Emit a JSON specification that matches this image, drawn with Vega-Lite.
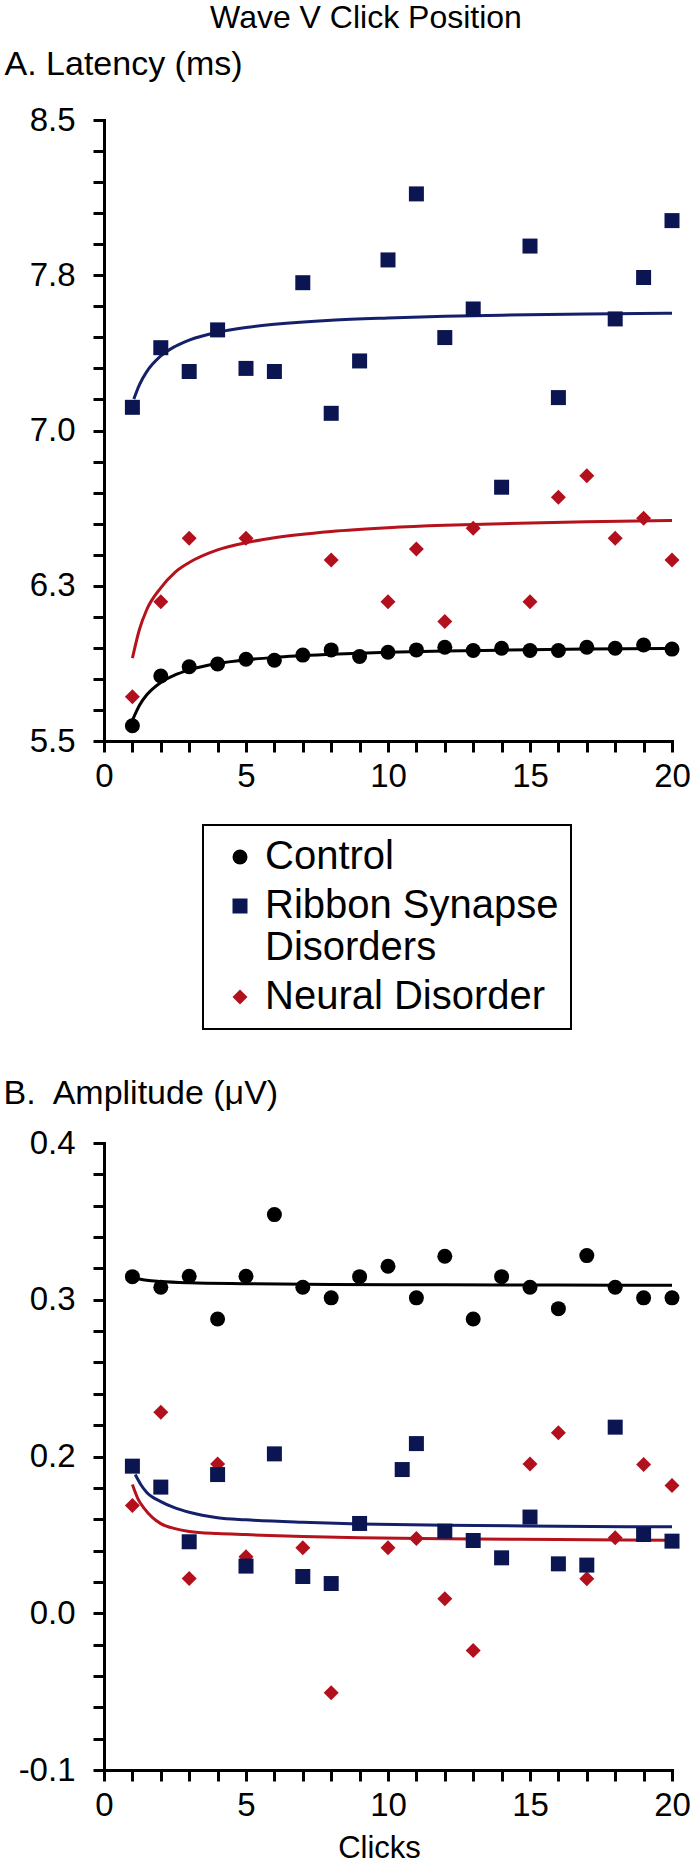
{
  "$schema": "https://vega.github.io/schema/vega-lite/v6.json",
  "padding": {"left": 3, "top": 2, "right": 5, "bottom": 0},
  "background": "white",
  "bounds": "flush",
  "spacing": 402,
  "datasets": {
    "lat_pts": [
      {"group": "Control", "clicks": 1, "value": 5.574}, {"group": "Control", "clicks": 2, "value": 5.814}, {"group": "Control", "clicks": 3, "value": 5.859}, {"group": "Control", "clicks": 4, "value": 5.872}, {"group": "Control", "clicks": 5, "value": 5.895}, {"group": "Control", "clicks": 6, "value": 5.890}, {"group": "Control", "clicks": 7, "value": 5.915}, {"group": "Control", "clicks": 8, "value": 5.940}, {"group": "Control", "clicks": 9, "value": 5.908}, {"group": "Control", "clicks": 10, "value": 5.929}, {"group": "Control", "clicks": 11, "value": 5.940}, {"group": "Control", "clicks": 12, "value": 5.953}, {"group": "Control", "clicks": 13, "value": 5.937}, {"group": "Control", "clicks": 14, "value": 5.948}, {"group": "Control", "clicks": 15, "value": 5.937}, {"group": "Control", "clicks": 16, "value": 5.937}, {"group": "Control", "clicks": 17, "value": 5.953}, {"group": "Control", "clicks": 18, "value": 5.948}, {"group": "Control", "clicks": 19, "value": 5.964}, {"group": "Control", "clicks": 20, "value": 5.944},
      {"group": "Neural Disorder", "clicks": 1, "value": 5.714}, {"group": "Neural Disorder", "clicks": 2, "value": 6.173}, {"group": "Neural Disorder", "clicks": 3, "value": 6.479}, {"group": "Neural Disorder", "clicks": 5, "value": 6.479}, {"group": "Neural Disorder", "clicks": 8, "value": 6.374}, {"group": "Neural Disorder", "clicks": 10, "value": 6.173}, {"group": "Neural Disorder", "clicks": 11, "value": 6.428}, {"group": "Neural Disorder", "clicks": 12, "value": 6.077}, {"group": "Neural Disorder", "clicks": 13, "value": 6.528}, {"group": "Neural Disorder", "clicks": 15, "value": 6.173}, {"group": "Neural Disorder", "clicks": 16, "value": 6.677}, {"group": "Neural Disorder", "clicks": 17, "value": 6.782}, {"group": "Neural Disorder", "clicks": 18, "value": 6.479}, {"group": "Neural Disorder", "clicks": 19, "value": 6.576}, {"group": "Neural Disorder", "clicks": 20, "value": 6.374},
      {"group": "Ribbon Synapse Disorders", "clicks": 1, "value": 7.112}, {"group": "Ribbon Synapse Disorders", "clicks": 2, "value": 7.400}, {"group": "Ribbon Synapse Disorders", "clicks": 3, "value": 7.285}, {"group": "Ribbon Synapse Disorders", "clicks": 4, "value": 7.486}, {"group": "Ribbon Synapse Disorders", "clicks": 5, "value": 7.300}, {"group": "Ribbon Synapse Disorders", "clicks": 6, "value": 7.285}, {"group": "Ribbon Synapse Disorders", "clicks": 7, "value": 7.714}, {"group": "Ribbon Synapse Disorders", "clicks": 8, "value": 7.083}, {"group": "Ribbon Synapse Disorders", "clicks": 9, "value": 7.336}, {"group": "Ribbon Synapse Disorders", "clicks": 10, "value": 7.824}, {"group": "Ribbon Synapse Disorders", "clicks": 11, "value": 8.143}, {"group": "Ribbon Synapse Disorders", "clicks": 12, "value": 7.449}, {"group": "Ribbon Synapse Disorders", "clicks": 13, "value": 7.587}, {"group": "Ribbon Synapse Disorders", "clicks": 14, "value": 6.726}, {"group": "Ribbon Synapse Disorders", "clicks": 15, "value": 7.891}, {"group": "Ribbon Synapse Disorders", "clicks": 16, "value": 7.159}, {"group": "Ribbon Synapse Disorders", "clicks": 18, "value": 7.539}, {"group": "Ribbon Synapse Disorders", "clicks": 19, "value": 7.739}, {"group": "Ribbon Synapse Disorders", "clicks": 20, "value": 8.014}
    ],
    "lat_fit": [
      {"group": "Control", "clicks": 1, "value": 5.600}, {"group": "Control", "clicks": 1.25, "value": 5.673}, {"group": "Control", "clicks": 1.5, "value": 5.722}, {"group": "Control", "clicks": 2, "value": 5.783}, {"group": "Control", "clicks": 2.5, "value": 5.819}, {"group": "Control", "clicks": 3, "value": 5.843}, {"group": "Control", "clicks": 4, "value": 5.874}, {"group": "Control", "clicks": 5, "value": 5.892}, {"group": "Control", "clicks": 6, "value": 5.904}, {"group": "Control", "clicks": 8, "value": 5.919}, {"group": "Control", "clicks": 10, "value": 5.929}, {"group": "Control", "clicks": 12, "value": 5.935}, {"group": "Control", "clicks": 14, "value": 5.939}, {"group": "Control", "clicks": 17, "value": 5.944}, {"group": "Control", "clicks": 20, "value": 5.947},
      {"group": "Ribbon Synapse Disorders", "clicks": 1.05, "value": 7.152}, {"group": "Ribbon Synapse Disorders", "clicks": 1.25, "value": 7.222}, {"group": "Ribbon Synapse Disorders", "clicks": 1.5, "value": 7.283}, {"group": "Ribbon Synapse Disorders", "clicks": 2, "value": 7.36}, {"group": "Ribbon Synapse Disorders", "clicks": 2.5, "value": 7.406}, {"group": "Ribbon Synapse Disorders", "clicks": 3, "value": 7.437}, {"group": "Ribbon Synapse Disorders", "clicks": 4, "value": 7.475}, {"group": "Ribbon Synapse Disorders", "clicks": 5, "value": 7.498}, {"group": "Ribbon Synapse Disorders", "clicks": 6, "value": 7.513}, {"group": "Ribbon Synapse Disorders", "clicks": 8, "value": 7.533}, {"group": "Ribbon Synapse Disorders", "clicks": 10, "value": 7.544}, {"group": "Ribbon Synapse Disorders", "clicks": 12, "value": 7.552}, {"group": "Ribbon Synapse Disorders", "clicks": 14, "value": 7.557}, {"group": "Ribbon Synapse Disorders", "clicks": 17, "value": 7.563}, {"group": "Ribbon Synapse Disorders", "clicks": 20, "value": 7.567},
      {"group": "Neural Disorder", "clicks": 1, "value": 5.900}, {"group": "Neural Disorder", "clicks": 1.25, "value": 6.040}, {"group": "Neural Disorder", "clicks": 1.5, "value": 6.133}, {"group": "Neural Disorder", "clicks": 2, "value": 6.240}, {"group": "Neural Disorder", "clicks": 2.5, "value": 6.315}, {"group": "Neural Disorder", "clicks": 3, "value": 6.362}, {"group": "Neural Disorder", "clicks": 4, "value": 6.423}, {"group": "Neural Disorder", "clicks": 5, "value": 6.458}, {"group": "Neural Disorder", "clicks": 6, "value": 6.482}, {"group": "Neural Disorder", "clicks": 8, "value": 6.512}, {"group": "Neural Disorder", "clicks": 10, "value": 6.530}, {"group": "Neural Disorder", "clicks": 12, "value": 6.542}, {"group": "Neural Disorder", "clicks": 14, "value": 6.550}, {"group": "Neural Disorder", "clicks": 17, "value": 6.559}, {"group": "Neural Disorder", "clicks": 20, "value": 6.565}
    ],
    "amp_pts": [
      {"group": "Control", "clicks": 1, "value": 0.2934}, {"group": "Control", "clicks": 2, "value": 0.285}, {"group": "Control", "clicks": 3, "value": 0.2937}, {"group": "Control", "clicks": 4, "value": 0.2597}, {"group": "Control", "clicks": 5, "value": 0.2937}, {"group": "Control", "clicks": 6, "value": 0.3429}, {"group": "Control", "clicks": 7, "value": 0.285}, {"group": "Control", "clicks": 8, "value": 0.2765}, {"group": "Control", "clicks": 9, "value": 0.2934}, {"group": "Control", "clicks": 10, "value": 0.3017}, {"group": "Control", "clicks": 11, "value": 0.2765}, {"group": "Control", "clicks": 12, "value": 0.3097}, {"group": "Control", "clicks": 13, "value": 0.2597}, {"group": "Control", "clicks": 14, "value": 0.2934}, {"group": "Control", "clicks": 15, "value": 0.285}, {"group": "Control", "clicks": 16, "value": 0.2679}, {"group": "Control", "clicks": 17, "value": 0.3102}, {"group": "Control", "clicks": 18, "value": 0.285}, {"group": "Control", "clicks": 19, "value": 0.2765}, {"group": "Control", "clicks": 20, "value": 0.2765},
      {"group": "Neural Disorder", "clicks": 1, "value": 0.1109}, {"group": "Neural Disorder", "clicks": 2, "value": 0.1853}, {"group": "Neural Disorder", "clicks": 3, "value": 0.0527}, {"group": "Neural Disorder", "clicks": 4, "value": 0.1441}, {"group": "Neural Disorder", "clicks": 5, "value": 0.07}, {"group": "Neural Disorder", "clicks": 7, "value": 0.0772}, {"group": "Neural Disorder", "clicks": 8, "value": -0.0384}, {"group": "Neural Disorder", "clicks": 10, "value": 0.0772}, {"group": "Neural Disorder", "clicks": 11, "value": 0.0846}, {"group": "Neural Disorder", "clicks": 12, "value": 0.0365}, {"group": "Neural Disorder", "clicks": 13, "value": -0.0047}, {"group": "Neural Disorder", "clicks": 15, "value": 0.1441}, {"group": "Neural Disorder", "clicks": 16, "value": 0.1689}, {"group": "Neural Disorder", "clicks": 17, "value": 0.0525}, {"group": "Neural Disorder", "clicks": 18, "value": 0.0852}, {"group": "Neural Disorder", "clicks": 19, "value": 0.1436}, {"group": "Neural Disorder", "clicks": 20, "value": 0.1268},
      {"group": "Ribbon Synapse Disorders", "clicks": 1, "value": 0.1423}, {"group": "Ribbon Synapse Disorders", "clicks": 2, "value": 0.1256}, {"group": "Ribbon Synapse Disorders", "clicks": 3, "value": 0.082}, {"group": "Ribbon Synapse Disorders", "clicks": 4, "value": 0.1356}, {"group": "Ribbon Synapse Disorders", "clicks": 5, "value": 0.0626}, {"group": "Ribbon Synapse Disorders", "clicks": 6, "value": 0.1521}, {"group": "Ribbon Synapse Disorders", "clicks": 7, "value": 0.0543}, {"group": "Ribbon Synapse Disorders", "clicks": 8, "value": 0.0487}, {"group": "Ribbon Synapse Disorders", "clicks": 9, "value": 0.0966}, {"group": "Ribbon Synapse Disorders", "clicks": 10.5, "value": 0.1396}, {"group": "Ribbon Synapse Disorders", "clicks": 11, "value": 0.1603}, {"group": "Ribbon Synapse Disorders", "clicks": 12, "value": 0.0905}, {"group": "Ribbon Synapse Disorders", "clicks": 13, "value": 0.083}, {"group": "Ribbon Synapse Disorders", "clicks": 14, "value": 0.0692}, {"group": "Ribbon Synapse Disorders", "clicks": 15, "value": 0.1017}, {"group": "Ribbon Synapse Disorders", "clicks": 16, "value": 0.0644}, {"group": "Ribbon Synapse Disorders", "clicks": 17, "value": 0.0634}, {"group": "Ribbon Synapse Disorders", "clicks": 18, "value": 0.1734}, {"group": "Ribbon Synapse Disorders", "clicks": 19, "value": 0.0878}, {"group": "Ribbon Synapse Disorders", "clicks": 20, "value": 0.0825}
    ],
    "amp_fit": [
      {"group": "Control", "clicks": 1.2, "value": 0.2918}, {"group": "Control", "clicks": 1.5, "value": 0.2905}, {"group": "Control", "clicks": 2, "value": 0.2895}, {"group": "Control", "clicks": 3, "value": 0.2885}, {"group": "Control", "clicks": 5, "value": 0.2878}, {"group": "Control", "clicks": 8, "value": 0.2872}, {"group": "Control", "clicks": 12, "value": 0.2869}, {"group": "Control", "clicks": 16, "value": 0.2867}, {"group": "Control", "clicks": 20, "value": 0.2866},
      {"group": "Ribbon Synapse Disorders", "clicks": 1.1, "value": 0.1356}, {"group": "Ribbon Synapse Disorders", "clicks": 1.3, "value": 0.1275}, {"group": "Ribbon Synapse Disorders", "clicks": 1.5, "value": 0.1215}, {"group": "Ribbon Synapse Disorders", "clicks": 2, "value": 0.114}, {"group": "Ribbon Synapse Disorders", "clicks": 2.5, "value": 0.109}, {"group": "Ribbon Synapse Disorders", "clicks": 3, "value": 0.1055}, {"group": "Ribbon Synapse Disorders", "clicks": 4, "value": 0.1012}, {"group": "Ribbon Synapse Disorders", "clicks": 5, "value": 0.0995}, {"group": "Ribbon Synapse Disorders", "clicks": 7, "value": 0.0975}, {"group": "Ribbon Synapse Disorders", "clicks": 9, "value": 0.0962}, {"group": "Ribbon Synapse Disorders", "clicks": 12, "value": 0.0952}, {"group": "Ribbon Synapse Disorders", "clicks": 16, "value": 0.0944}, {"group": "Ribbon Synapse Disorders", "clicks": 20, "value": 0.0939},
      {"group": "Neural Disorder", "clicks": 1, "value": 0.1276}, {"group": "Neural Disorder", "clicks": 1.2, "value": 0.116}, {"group": "Neural Disorder", "clicks": 1.4, "value": 0.109}, {"group": "Neural Disorder", "clicks": 1.7, "value": 0.1015}, {"group": "Neural Disorder", "clicks": 2, "value": 0.0965}, {"group": "Neural Disorder", "clicks": 2.5, "value": 0.0925}, {"group": "Neural Disorder", "clicks": 3, "value": 0.0902}, {"group": "Neural Disorder", "clicks": 4, "value": 0.0885}, {"group": "Neural Disorder", "clicks": 5, "value": 0.0877}, {"group": "Neural Disorder", "clicks": 7, "value": 0.0862}, {"group": "Neural Disorder", "clicks": 9, "value": 0.0852}, {"group": "Neural Disorder", "clicks": 12, "value": 0.0845}, {"group": "Neural Disorder", "clicks": 16, "value": 0.0838}, {"group": "Neural Disorder", "clicks": 20, "value": 0.0833}
    ]
  },
  "vconcat": [
    {
      "width": 568,
      "height": 621,
      "title": {"text": "Wave V Click Position", "fontSize": 32, "fontWeight": "normal", "font": "Liberation Sans", "color": "black", "anchor": "middle", "frame": "group", "dx": -22, "offset": -13, "baseline": "alphabetic"},
      "encoding": {
        "x": {"field": "clicks", "type": "quantitative", "scale": {"domain": [0, 20], "nice": false},
          "axis": {"title": null, "values": [0,1,2,3,4,5,6,7,8,9,10,11,12,13,14,15,16,17,18,19,20], "labelExpr": "datum.value % 5 == 0 ? datum.label : ''", "labelFlush": false, "labelOverlap": false, "labelPadding": 8}},
        "y": {"field": "value", "type": "quantitative", "scale": {"domain": [5.5, 8.5], "nice": false, "zero": false},
          "axis": {"values": [5.5,5.65,5.8,5.95,6.1,6.25,6.4,6.55,6.7,6.85,7.0,7.15,7.3,7.45,7.6,7.75,7.9,8.05,8.2,8.35,8.5], "labelExpr": "indexof([5.5, 6.25, 7, 7.75, 8.5], datum.value) >= 0 ? format(datum.value, '.1f') : ''", "labelFlush": false, "labelOverlap": false, "labelPadding": 18,
            "title": "A. Latency (ms)", "titleAngle": 0, "titleAlign": "left", "titleBaseline": "alphabetic", "titleX": -100, "titleY": -46, "titleFontSize": 34}}
      },
      "layer": [
        {
          "data": {"name": "lat_fit"},
          "mark": {"type": "line", "strokeWidth": 3, "interpolate": "monotone"},
          "encoding": {
            "stroke": {"field": "group", "type": "nominal", "scale": {"domain": ["Control", "Ribbon Synapse Disorders", "Neural Disorder"], "range": ["#000000", "#15206b", "#b5121b"]}, "legend": null}
          }
        },
        {
          "data": {"name": "lat_pts"},
          "mark": {"type": "point", "filled": true, "opacity": 1, "strokeWidth": 0},
          "encoding": {
            "color": {"field": "group", "type": "nominal", "scale": {"domain": ["Control", "Ribbon Synapse Disorders", "Neural Disorder"], "range": ["#000000", "#0b1552", "#b3101e"]},
              "legend": {"title": null, "labelExpr": "datum.label == 'Ribbon Synapse Disorders' ? ['Ribbon Synapse', 'Disorders'] : datum.label"}},
            "shape": {"field": "group", "type": "nominal", "scale": {"domain": ["Control", "Ribbon Synapse Disorders", "Neural Disorder"], "range": ["circle", "square", "diamond"]},
              "legend": {"title": null, "labelExpr": "datum.label == 'Ribbon Synapse Disorders' ? ['Ribbon Synapse', 'Disorders'] : datum.label"}},
            "size": {"field": "group", "type": "nominal", "scale": {"domain": ["Control", "Ribbon Synapse Disorders", "Neural Disorder"], "range": [225, 225, 289]}, "legend": null}
          }
        }
      ]
    },
    {
      "width": 568,
      "height": 627,
      "encoding": {
        "x": {"field": "clicks", "type": "quantitative", "scale": {"domain": [0, 20], "nice": false},
          "axis": {"title": "Clicks", "values": [0,1,2,3,4,5,6,7,8,9,10,11,12,13,14,15,16,17,18,19,20], "labelExpr": "datum.value % 5 == 0 ? datum.label : ''", "labelFlush": false, "labelOverlap": false, "labelPadding": 8,
            "titleFontSize": 31, "titleX": 275, "titleY": 87, "titleBaseline": "alphabetic", "titleAlign": "center"}},
        "y": {"field": "value", "type": "quantitative", "scale": {"domain": [-0.1, 0.4], "nice": false, "zero": false},
          "axis": {"values": [-0.1,-0.075,-0.05,-0.025,0,0.025,0.05,0.075,0.1,0.125,0.15,0.175,0.2,0.225,0.25,0.275,0.3,0.325,0.35,0.375,0.4], "labelExpr": "datum.value == 0.4 ? '0.4' : datum.value == 0.275 ? '0.3' : datum.value == 0.15 ? '0.2' : datum.value == 0.025 ? '0.0' : datum.value == -0.1 ? '-0.1' : ''", "labelFlush": false, "labelOverlap": false, "labelPadding": 18,
            "title": "B.\u00a0 Amplitude (\u03bcV)", "titleAngle": 0, "titleAlign": "left", "titleBaseline": "alphabetic", "titleX": -101, "titleY": -40, "titleFontSize": 34}}
      },
      "layer": [
        {
          "data": {"name": "amp_fit"},
          "mark": {"type": "line", "strokeWidth": 3, "interpolate": "monotone"},
          "encoding": {
            "stroke": {"field": "group", "type": "nominal", "scale": {"domain": ["Control", "Ribbon Synapse Disorders", "Neural Disorder"], "range": ["#000000", "#15206b", "#b5121b"]}, "legend": null}
          }
        },
        {
          "data": {"name": "amp_pts"},
          "mark": {"type": "point", "filled": true, "opacity": 1, "strokeWidth": 0},
          "encoding": {
            "color": {"field": "group", "type": "nominal", "scale": {"domain": ["Control", "Ribbon Synapse Disorders", "Neural Disorder"], "range": ["#000000", "#0b1552", "#b3101e"]}, "legend": null},
            "shape": {"field": "group", "type": "nominal", "scale": {"domain": ["Control", "Ribbon Synapse Disorders", "Neural Disorder"], "range": ["circle", "square", "diamond"]}, "legend": null},
            "size": {"field": "group", "type": "nominal", "scale": {"domain": ["Control", "Ribbon Synapse Disorders", "Neural Disorder"], "range": [225, 225, 289]}, "legend": null}
          }
        }
      ]
    }
  ],
  "resolve": {"legend": {"color": "independent", "shape": "independent", "size": "independent"}, "scale": {"y": "independent"}},
  "config": {
    "font": "Liberation Sans",
    "view": {"stroke": null},
    "axis": {"grid": false, "ticks": true, "tickOpacity": 1, "labelOverlap": false, "domainColor": "#000000", "tickColor": "#000000", "labelColor": "#000000", "titleColor": "#000000", "labelFont": "Liberation Sans", "titleFont": "Liberation Sans", "labelFontSize": 33, "titleFontWeight": "normal", "domainWidth": 3, "tickWidth": 3, "tickSize": 11, "domainCap": "square"},
    "legend": {"orient": "none", "legendX": 99, "legendY": 705, "labelFont": "Liberation Sans", "labelFontSize": 40, "labelColor": "#000000", "symbolSize": 420, "labelOffset": 5, "padding": 12, "symbolOffset": 5, "rowPadding": 9, "strokeColor": "#000000", "strokeWidth": 2, "fillColor": "white", "labelLimit": 500, "symbolStrokeWidth": 0, "labelBaseline": "middle"}
  }
}
